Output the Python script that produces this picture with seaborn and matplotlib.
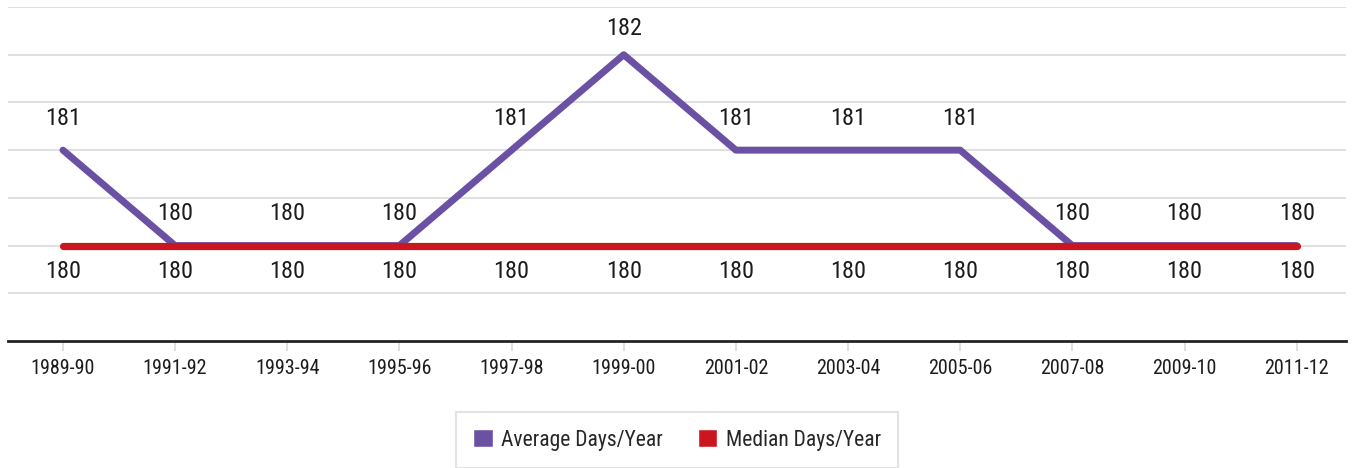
import pandas as pd
import matplotlib.pyplot as plt
import seaborn as sns
from matplotlib import font_manager
from matplotlib.patches import Patch

# data
years = ['1989-90', '1991-92', '1993-94', '1995-96', '1997-98', '1999-00',
         '2001-02', '2003-04', '2005-06', '2007-08', '2009-10', '2011-12']
average_days = [181, 180, 180, 180, 181, 182, 181, 181, 181, 180, 180, 180]
median_days = [180, 180, 180, 180, 180, 180, 180, 180, 180, 180, 180, 180]

purple = '#6A51A3'
red = '#CB1620'

sns.set_theme(style='white')
# condensed face if there is one, else Roboto
names = {f.name for f in font_manager.fontManager.ttflist}
fam = 'Roboto'
for cand in ['Roboto Condensed', 'Liberation Sans Narrow', 'Open Sans Condensed',
             'Noto Sans Condensed', 'DejaVu Sans Condensed']:
    if cand in names:
        fam = cand
        break
condensed = fam != 'Roboto'
plt.rcParams['font.family'] = [fam, 'DejaVu Sans']
k = 1.0 if condensed else 0.93

df = pd.DataFrame({'year': years, 'average': average_days, 'median': median_days})

fig = plt.figure(figsize=(13.54, 4.68), dpi=100)
ax = fig.add_axes([0.0059, 0.2714, 0.9882, 0.7136])

sns.lineplot(data=df, x='year', y='average', sort=False, ax=ax, color=purple,
             linewidth=5.0, solid_capstyle='round', solid_joinstyle='round', zorder=3)
sns.lineplot(data=df, x='year', y='median', sort=False, ax=ax, color=red,
             linewidth=5.2, solid_capstyle='round', zorder=4)

# value labels (the top one sits a little lower, as in the source)
for i, v in enumerate(average_days):
    dy = 19 if v == max(average_days) else 23
    ax.annotate(str(v), (i, v), xytext=(0, dy), textcoords='offset points',
                ha='center', va='center', fontsize=17.5 * k, color='#1c1c1c')
for i, v in enumerate(median_days):
    ax.annotate(str(v), (i, v), xytext=(0, -19), textcoords='offset points',
                ha='center', va='center', fontsize=17.5 * k, color='#1c1c1c')

ax.set_ylim(179, 182.5)
ax.set_xlim(-0.49, 11.44)
ax.set_yticks([179.5, 180, 180.5, 181, 181.5, 182, 182.5])
ax.yaxis.grid(True, color='#DDDDDD', linewidth=1.3)
ax.set_yticklabels([])
ax.tick_params(axis='y', length=0)
ax.tick_params(axis='x', length=7, width=1.3, color='#DDDDDD', pad=6,
               labelsize=14.5 * k, labelcolor='#1c1c1c', bottom=True)
ax.set_xlabel('')
ax.set_ylabel('')

for s in ['top', 'right', 'left']:
    ax.spines[s].set_visible(False)
ax.spines['bottom'].set_color('#222222')
ax.spines['bottom'].set_linewidth(2)

handles = [Patch(facecolor=purple, label='Average Days/Year'),
           Patch(facecolor=red, label='Median Days/Year')]
leg = fig.legend(handles=handles, loc='center', bbox_to_anchor=(0.5, 0.06),
                 ncol=2, frameon=True, fancybox=False, fontsize=15.5 * k,
                 handlelength=0.9, handleheight=0.9, handletextpad=0.4,
                 columnspacing=1.6, borderpad=0.8)
leg.get_frame().set_edgecolor('#DDDDDD')
leg.get_frame().set_linewidth(1.5)

fig.savefig('out.png', dpi=100)
